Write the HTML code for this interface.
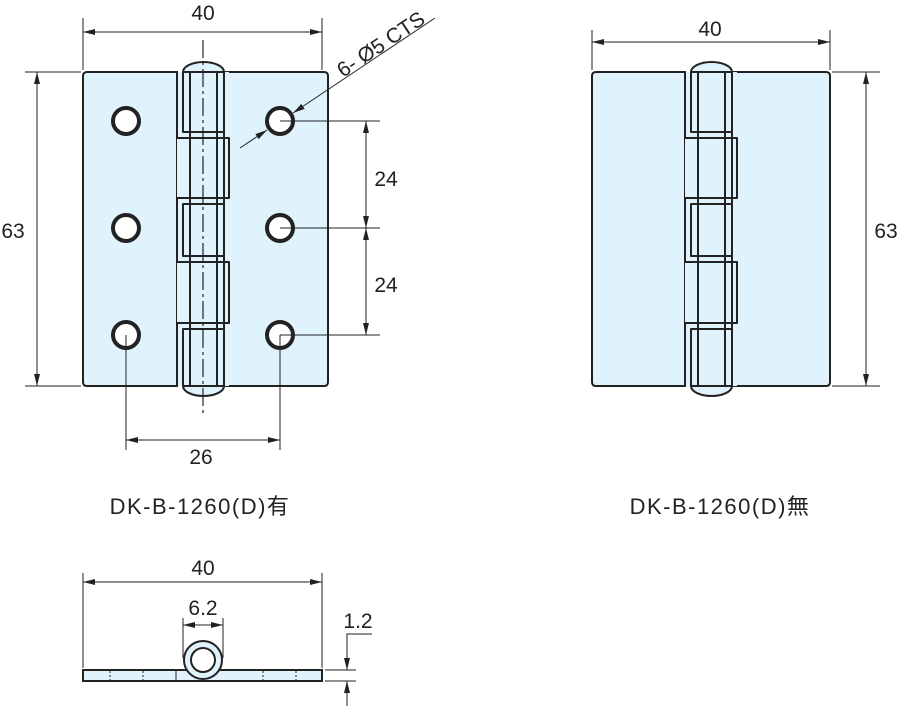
<!DOCTYPE html><html><head><style>body{margin:0;background:#fff}svg{display:block}text{font-family:"Liberation Sans","Noto Sans CJK JP",sans-serif;fill:#222}</style></head><body>
<svg width="900" height="706" viewBox="0 0 900 706" xmlns="http://www.w3.org/2000/svg">
<defs>
<marker id="a" markerWidth="12" markerHeight="8" refX="12" refY="4" orient="auto-start-reverse" markerUnits="userSpaceOnUse"><path d="M0,1 L12,4 L0,7 Z" fill="#222"/></marker>
<g id="hinge">
<path d="M183,72 A20.5,10 0 0 1 224,72 Z M183,386 A20.5,10 0 0 0 224,386 Z" fill="#e0f2fc" stroke="#222" stroke-width="2"/>
<rect x="177" y="72" width="52" height="314" fill="#e0f2fc"/>
<g stroke="#222" stroke-width="2" fill="none" stroke-linejoin="round">
<path d="M177,72 L177,138 L229,138 L229,198 L177,198 L177,262 L229,262 L229,323 L177,323 L177,386"/>
<path d="M183,72 L183,132 L224,132 L224,204 L183,204 L183,256 L224,256 L224,329 L183,329 L183,386"/>
<path d="M183,72 L224,72 L224,132 M224,204 V256 M224,329 V386 L183,386"/>
<path d="M190,72 V386 M217,72 V386"/>
</g>
</g>
</defs>
<path d="M83,76 Q83,72 87,72 L177,72 L177,386 L87,386 Q83,386 83,382 Z" fill="#e0f2fc" stroke="#222" stroke-width="2"/>
<path d="M224,72 L324,72 Q328,72 328,76 L328,382 Q328,386 324,386 L224,386 Z" fill="#e0f2fc" stroke="#222" stroke-width="2"/>
<use href="#hinge"/>
<line x1="203" y1="40" x2="203" y2="415" stroke="#222" stroke-width="1.2" stroke-dasharray="18,4,3,4"/>
<g fill="#fff" stroke="#222" stroke-width="4">
<circle cx="126" cy="121" r="13"/><circle cx="126" cy="228" r="13"/><circle cx="126" cy="335" r="13"/>
<circle cx="280" cy="121" r="13"/><circle cx="280" cy="228" r="13"/><circle cx="280" cy="335" r="13"/>
</g>
<g stroke="#222" stroke-width="1" fill="none">
<line x1="83" y1="70" x2="83" y2="18"/><line x1="322" y1="70" x2="322" y2="18"/>
<line x1="83" y1="32" x2="322" y2="32" marker-start="url(#a)" marker-end="url(#a)"/>
<line x1="81" y1="72" x2="25" y2="72"/><line x1="81" y1="386" x2="25" y2="386"/>
<line x1="37" y1="72" x2="37" y2="386" marker-start="url(#a)" marker-end="url(#a)"/>
<line x1="280" y1="121" x2="380" y2="121"/><line x1="280" y1="228" x2="380" y2="228"/><line x1="280" y1="335" x2="380" y2="335"/>
<line x1="366" y1="121" x2="366" y2="228" marker-start="url(#a)" marker-end="url(#a)"/>
<line x1="366" y1="228" x2="366" y2="335" marker-start="url(#a)" marker-end="url(#a)"/>
<line x1="126" y1="335" x2="126" y2="450"/><line x1="280" y1="335" x2="280" y2="450"/>
<line x1="126" y1="440" x2="280" y2="440" marker-start="url(#a)" marker-end="url(#a)"/>
<line x1="435" y1="18" x2="293" y2="113" marker-end="url(#a)"/>
<line x1="240" y1="148" x2="267" y2="130" marker-end="url(#a)"/>
</g>
<text x="203" y="20" font-size="21" text-anchor="middle">40</text>
<text x="13" y="238" font-size="21" text-anchor="middle">63</text>
<text x="386" y="186" font-size="21" text-anchor="middle">24</text>
<text x="386" y="292" font-size="21" text-anchor="middle">24</text>
<text x="201" y="464" font-size="21" text-anchor="middle">26</text>
<text transform="translate(343,78) rotate(-33.7)" font-size="21">6-  Ø5 CTS</text>
<text x="200" y="514" font-size="22" letter-spacing="1.5" text-anchor="middle">DK-B-1260(D)有</text>
<g transform="translate(508,0)">
<path d="M84,76 Q84,72 88,72 L177,72 L177,386 L88,386 Q84,386 84,382 Z" fill="#e0f2fc" stroke="#222" stroke-width="2"/>
<path d="M224,72 L318,72 Q322,72 322,76 L322,382 Q322,386 318,386 L224,386 Z" fill="#e0f2fc" stroke="#222" stroke-width="2"/>
<use href="#hinge"/>
</g>
<g stroke="#222" stroke-width="1" fill="none">
<line x1="592" y1="70" x2="592" y2="30"/><line x1="830" y1="70" x2="830" y2="30"/>
<line x1="592" y1="42" x2="830" y2="42" marker-start="url(#a)" marker-end="url(#a)"/>
<line x1="832" y1="72" x2="880" y2="72"/><line x1="832" y1="386" x2="880" y2="386"/>
<line x1="866" y1="72" x2="866" y2="386" marker-start="url(#a)" marker-end="url(#a)"/>
</g>
<text x="710" y="36" font-size="21" text-anchor="middle">40</text>
<text x="886" y="238" font-size="21" text-anchor="middle">63</text>
<text x="720" y="514" font-size="22" letter-spacing="1.5" text-anchor="middle">DK-B-1260(D)無</text>
<g stroke="#222" stroke-width="2">
<rect x="83" y="670" width="239" height="11" fill="#e0f2fc"/>
<circle cx="203" cy="660" r="19" fill="#e0f2fc"/>
<circle cx="203" cy="660" r="12" fill="#fff"/>
</g>
<g stroke="#222" stroke-width="1" fill="none">
<line x1="110" y1="671" x2="110" y2="680" stroke-dasharray="2,2"/><line x1="143" y1="671" x2="143" y2="680" stroke-dasharray="2,2"/>
<line x1="263" y1="671" x2="263" y2="680" stroke-dasharray="2,2"/><line x1="296" y1="671" x2="296" y2="680" stroke-dasharray="2,2"/>
<line x1="176" y1="671" x2="176" y2="680"/>
<line x1="83" y1="668" x2="83" y2="573"/><line x1="322" y1="668" x2="322" y2="573"/>
<line x1="83" y1="582" x2="322" y2="582" marker-start="url(#a)" marker-end="url(#a)"/>
<line x1="183" y1="658" x2="183" y2="618"/><line x1="223" y1="658" x2="223" y2="618"/>
<line x1="183" y1="625" x2="223" y2="625" marker-start="url(#a)" marker-end="url(#a)"/>
<line x1="325" y1="670" x2="356" y2="670"/><line x1="325" y1="681" x2="356" y2="681"/>
<path d="M372,634 H347 V670" marker-end="url(#a)"/>
<line x1="347" y1="706" x2="347" y2="681" marker-end="url(#a)"/>
</g>
<text x="203" y="575" font-size="21" text-anchor="middle">40</text>
<text x="203" y="615" font-size="21" text-anchor="middle">6.2</text>
<text x="358" y="628" font-size="21" text-anchor="middle">1.2</text>
</svg>
</body></html>
